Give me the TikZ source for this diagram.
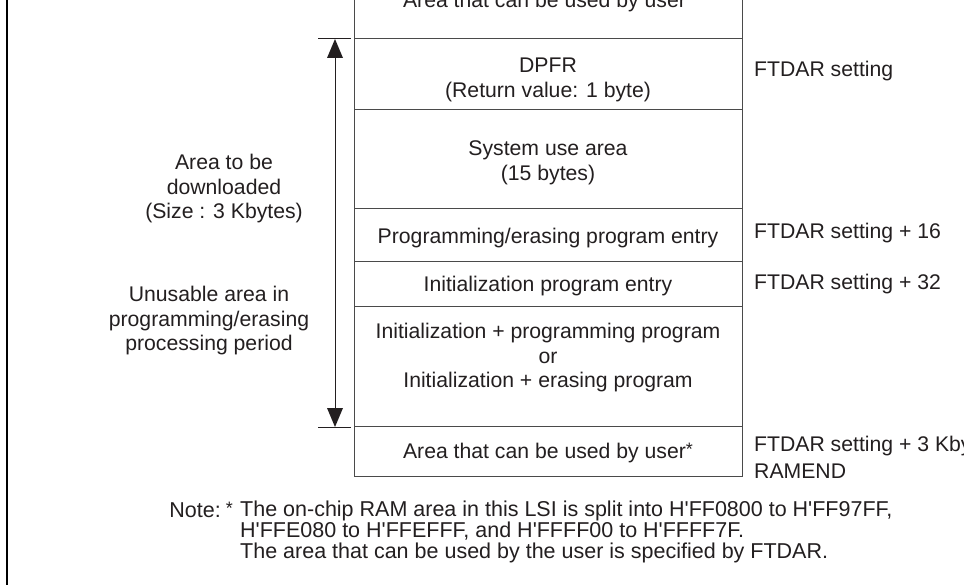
\documentclass[tikz,border=0pt]{standalone}
\usepackage{fontspec}
\setmainfont{Liberation Sans}
\definecolor{ink}{HTML}{231F20}
\definecolor{boxline}{HTML}{4A4A4A}
\newcommand{\hq}{\textquotesingle}
\newcommand{\smast}{{\fontsize{18}{18}\selectfont\raisebox{2.5pt}{*}}}
\begin{document}
\begin{tikzpicture}[x=1pt,y=-1pt,
  txt/.style={font=\fontsize{21.2}{24.5}\selectfont, text=ink, inner sep=0pt, align=center},
  lbl/.style={font=\fontsize{21.2}{24.5}\selectfont, text=ink, inner sep=0pt, anchor=base west},
  notefont/.style={font=\fontsize{21.5}{21}\selectfont, text=ink, inner sep=0pt},
  sep/.style={draw=boxline, line width=1pt},
  dim/.style={draw=ink, line width=1pt}]
\useasboundingbox (0,0) rectangle (964,585);
\fill[white] (0,0) rectangle (964,585);
% left frame line
\draw[line width=2.5pt, black] (7,-5) -- (7,590);
% memory map box
\draw[sep] (354,-5) -- (354,476) -- (742,476) -- (742,-5);
\foreach \yy in {39,110,209,262,307,426} \draw[sep] (354,\yy) -- (742,\yy);
% texts inside box
\node[txt] (u1) at (548,2) {Area that can be used by user\smast};
\node[txt] (dpfr) at (548,80) {DPFR\\(Return value: 1 byte)};
\node[txt] (sys) at (548,163) {System use area\\(15 bytes)};
\node[txt] (pe) at (548,238) {Programming/erasing program entry};
\node[txt] (ie) at (548,286) {Initialization program entry};
\node[txt] (ip) at (548,358) {Initialization + programming program\\or\\Initialization + erasing program};
\node[txt] (u2) at (548,453) {Area that can be used by user\smast};
% right labels
\node[lbl] (r1) at (754,77) {FTDAR setting};
\node[lbl] (r2) at (754,239) {FTDAR setting + 16};
\node[lbl] (r3) at (754,290) {FTDAR setting + 32};
\node[lbl] (r4) at (754,451) {FTDAR setting + 3 Kbytes};
\node[lbl] (r5) at (754,478) {RAMEND};
% dimension arrow
\coordinate (tA) at (318,39);
\coordinate (tB) at (351,39);
\coordinate (bA) at (318,427);
\coordinate (bB) at (351,427);
\draw[dim] (tA) -- (tB);
\draw[dim] (bA) -- (bB);
\coordinate (top) at (335,39);
\coordinate (bot) at (335,427);
\draw[dim] (335,57) -- (335,409);
\fill[ink] (top) -- (327,58) -- (343,58) -- cycle;
\fill[ink] (bot) -- (327,408) -- (343,408) -- cycle;
% left labels
\node[txt] (dl) at (224,189) {Area to be\\downloaded\\(Size : 3 Kbytes)};
\node[txt] (ul) at (209,321) {Unusable area in\\programming/erasing\\processing period};
% note
\node[notefont, anchor=base east] (n0) at (233,517) {Note:\hspace{5pt}\smast};
\node[notefont, align=left, anchor=north west] (n1) at (240,501)
 {The on-chip RAM area in this LSI is split into H\hq FF0800 to H\hq FF97FF,\\
  H\hq FFE080 to H\hq FFEFFF, and H\hq FFFF00 to H\hq FFFF7F.\\
  The area that can be used by the user is specified by FTDAR.};
\end{tikzpicture}
\end{document}
